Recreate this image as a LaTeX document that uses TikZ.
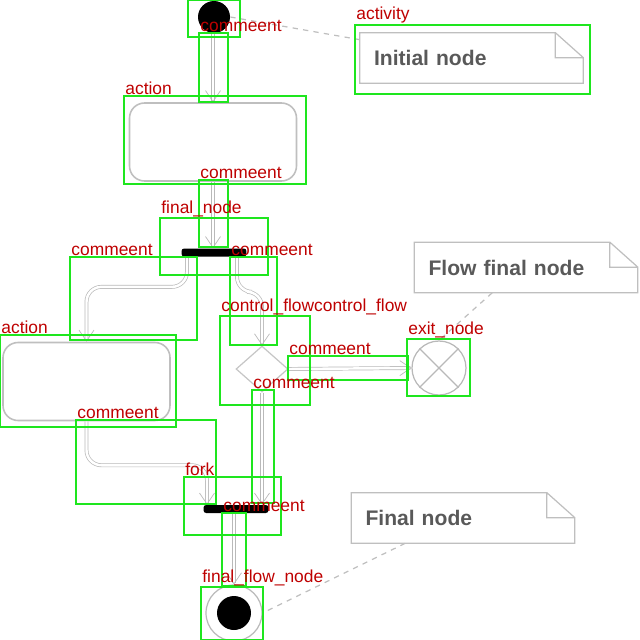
\documentclass[tikz,border=0pt]{standalone}
\usepackage{fontspec}
\setmainfont{Liberation Sans}
\usepackage{xcolor}
\usepackage{tikz}
\usetikzlibrary{shapes.geometric}
\usetikzlibrary{arrows,arrows.meta}
\usetikzlibrary{shapes}

\definecolor{boxgreen}{RGB}{30,230,30}
\definecolor{tagred}{RGB}{190,0,0}

\tikzset{
  annot/.style={draw=boxgreen, line width=1.4pt},
  tag/.style={text=tagred, anchor=south west, inner sep=0.6pt, font=\fontsize{9.9}{10}\selectfont},
  flow/.style={draw=gray!55, line width=0.4pt, double=white, double distance=1.4pt, -{Straight Barb[length=0.22cm,width=0.3cm]}},
  initnode/.style={circle, fill=black, inner sep=0pt, minimum size=0.64cm},
  action/.style={draw=gray!50, line width=0.9pt, rounded corners=0.3cm, minimum width=3.34cm, minimum height=1.56cm},
  bar/.style={fill=black, rounded corners=1.5pt, inner sep=0pt, minimum width=1.3cm, minimum height=0.16cm},
  decide/.style={diamond, draw=gray!45, line width=0.7pt, inner sep=0pt, minimum width=1.04cm, minimum height=0.92cm},
  endnode/.style={circle, draw=gray!55, line width=0.7pt, inner sep=0pt, minimum size=1.08cm},
  note/.style={text=black!65, font=\bfseries\fontsize{12}{14}\selectfont, align=left, text width=3.9cm, inner xsep=0.28cm, minimum height=1cm},
  noteline/.style={draw=gray!50, line width=0.7pt},
  comline/.style={draw=gray!50, dashed, line width=0.7pt}
}

% green frame with its red tag
\newcommand{\annot}[5]{%
  \draw[annot] (#1,#2) rectangle (#3,#4);
  \node[tag] at (#1,#2) {#5};}
% note outline with folded corner
\newcommand{\notefold}[1]{%
  \draw[noteline] (#1.south west) -- (#1.north west) -- ([xshift=-0.56cm]#1.north east)
    -- ([yshift=-0.5cm]#1.north east) -- (#1.south east) -- cycle
    ([xshift=-0.56cm]#1.north east) |- ([yshift=-0.5cm]#1.north east);}

\begin{document}
\begin{tikzpicture}[x=0.02cm, y=-0.02cm]
            \useasboundingbox (0,0) rectangle (640,640);

            \node[initnode] (init) at (214,17) {};
            \node[action] (act1) at (213,142) {};
            \node[bar] (fork1) at (214,252.5) {};
            \node[action] (act2) at (86.5,381.5) {};
            \node[decide] (dec) at (262,369) {};
            \node[endnode] (exit) at (439,368) {};
            \node[bar] (fork2) at (236,509) {};
            \node[endnode, minimum size=1.12cm] (final) at (234,613) {};
            \fill (final.center) circle (0.34cm);
            \draw[gray!55, line width=0.7pt] (exit.north west) -- (exit.south east)
                (exit.north east) -- (exit.south west);

            \node[note] (nInit) at (471.5,58) {Initial node};
            \node[note] (nFlow) at (526,267.5) {Flow final node};
            \node[note] (nFinal) at (463,518) {Final node};
            \notefold{nInit}
            \notefold{nFlow}
            \notefold{nFinal}

            \draw[flow] (init.south -| act1.north) -- (act1.north);
            \draw[flow] (act1.south) -- (act1.south |- fork1.north);
            \draw[flow, rounded corners=0.3cm] ([xshift=-0.54cm]fork1.south) -- ++(0,-0.6cm) -| (act2.north);
            \draw[flow, rounded corners=0.3cm] ([xshift=0.46cm]fork1.south) -- ++(0,-0.7cm) -| (dec.north);
            \draw[flow] (dec.east) -- (exit.west);
            \draw[flow] (dec.south) -- (dec.south |- fork2.north);
            \draw[flow, rounded corners=0.3cm] (act2.south) -- ++(0,-0.88cm) -| ([xshift=-0.58cm]fork2.north);
            \draw[flow] (fork2.south -| final.north) -- (final.north);

            \draw[comline] (init.east) -- ([yshift=-0.14cm]nInit.north west);
            \draw[comline] ([xshift=1.56cm]nFlow.south west) -- (exit.north);
            \draw[comline] ([xshift=1.08cm]nFinal.south west) -- (final.east);

            \annot{188}{0}{240}{37}{}
            \annot{199}{33}{228}{102}{commeent}
            \annot{355}{25}{590}{94}{activity}
            \annot{124}{96}{306}{184}{action}
            \annot{199}{180}{228}{247}{commeent}
            \annot{160}{218}{268}{275}{final\_node}
            \annot{70}{257}{197}{340}{commeent}
            \annot{230}{257}{277}{345}{commeent}
            \annot{220}{316}{310}{405}{control\_flowcontrol\_flow}
            \annot{288}{356}{408}{380}{commeent}
            \annot{407}{339}{470}{396}{exit\_node}
            \annot{0}{335}{176}{427}{action}
            \annot{252}{390}{274}{503}{commeent}
            \annot{76}{420}{216}{504}{commeent}
            \annot{184}{477}{281}{535}{fork}
            \annot{222}{513}{246}{586}{commeent}
            \annot{201}{587}{263}{640}{final\_flow\_node}
        \end{tikzpicture}
\end{document}
